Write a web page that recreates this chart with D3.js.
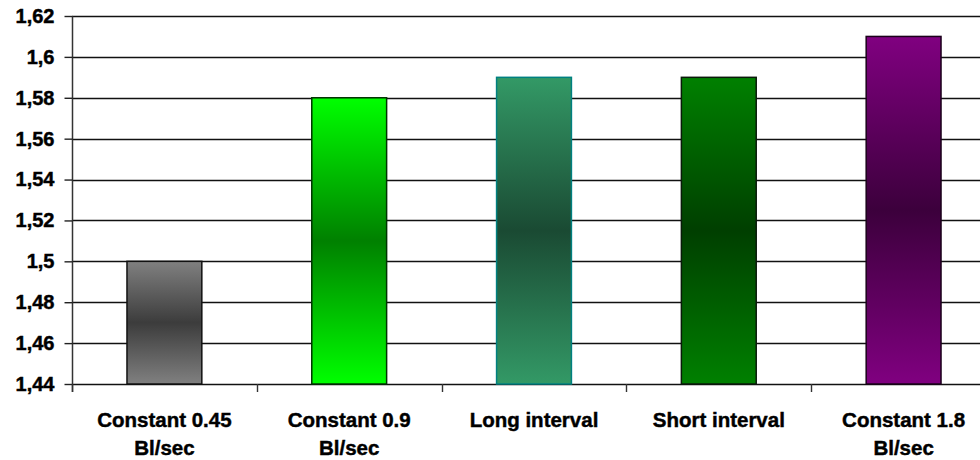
<!DOCTYPE html>
<html>
<head>
<meta charset="utf-8">
<script src="https://cdn.jsdelivr.net/npm/d3@7"></script>
<style>
  html, body { margin: 0; padding: 0; background: #fff; }
  svg { display: block; }
  text { font-family: "Liberation Sans", Arial, sans-serif; font-weight: bold; fill: #000; stroke: #000; stroke-width: 0.45px; }
</style>
</head>
<body>
<svg id="chart" width="980" height="460"></svg>
<script>
const categories = ["Constant 0.45 Bl/sec", "Constant 0.9 Bl/sec", "Long interval", "Short interval", "Constant 1.8 Bl/sec"];
const categoryLines = [["Constant 0.45", "Bl/sec"], ["Constant 0.9", "Bl/sec"], ["Long interval"], ["Short interval"], ["Constant 1.8", "Bl/sec"]];
const values = [1.50, 1.58, 1.59, 1.59, 1.61];
const yTicks = [1.44, 1.46, 1.48, 1.50, 1.52, 1.54, 1.56, 1.58, 1.60, 1.62];
const edgeColors = ["#808080", "#00ff00", "#339966", "#008000", "#800080"];
const midColors = ["#3c3c3c", "#008000", "#1a4a33", "#003f00", "#3c003c"];
const strokeColors = ["#111111", "#003300", "#008080", "#0a1a0a", "#1a001a"];

(function () {
const svg = d3.select("#chart");
const mLeft = 72, mRight = 996, mTop = 16, mBottom = 384;

const x = d3.scaleBand().domain(categories).range([mLeft, mRight]).padding(0);
const y = d3.scaleLinear().domain([1.44, 1.62]).range([mBottom, mTop]);

// gradients
const defs = svg.append("defs");
categories.forEach((c, i) => {
  const g = defs.append("linearGradient").attr("id", "g" + i)
    .attr("x1", 0).attr("y1", 0).attr("x2", 0).attr("y2", 1);
  g.append("stop").attr("offset", "0%").attr("stop-color", edgeColors[i]);
  g.append("stop").attr("offset", "50%").attr("stop-color", midColors[i]);
  g.append("stop").attr("offset", "100%").attr("stop-color", edgeColors[i]);
});

// gridlines
svg.append("g").selectAll("line").data(yTicks).join("line")
  .attr("x1", mLeft).attr("x2", 980)
  .attr("y1", d => Math.round(y(d)) + 0.5).attr("y2", d => Math.round(y(d)) + 0.5)
  .attr("stroke", "#111").attr("stroke-width", 1.4);

// bars
const bw = x.bandwidth();
svg.append("g").selectAll("rect").data(values).join("rect")
  .attr("x", (d, i) => x(categories[i]) + bw * 0.2975)
  .attr("width", bw * 0.405)
  .attr("y", d => y(d))
  .attr("height", d => y(1.44) - y(d))
  .attr("fill", (d, i) => `url(#g${i})`)
  .attr("stroke", (d, i) => strokeColors[i])
  .attr("stroke-width", 1.5);

// y axis
const yAxis = d3.axisLeft(y).tickValues(yTicks).tickSize(8).tickPadding(10)
  .tickFormat(d => String(+d.toFixed(2)).replace(".", ","));
const ya = svg.append("g").attr("transform", `translate(${mLeft + 0.5},0)`).call(yAxis);
ya.select(".domain").attr("stroke", "#333").attr("stroke-width", 1.5).attr("d", `M0,${mTop}V${mBottom + 8}`);
ya.selectAll(".tick line").attr("stroke", "#222").attr("stroke-width", 1.4);
ya.selectAll(".tick text").attr("font-size", 20).attr("font-family", "Liberation Sans, Arial, sans-serif").attr("font-weight", "bold").attr("fill", "#000");

// x axis ticks at band boundaries
svg.append("g").selectAll("line").data(categories).join("line")
  .attr("x1", d => Math.round(x(d)) + 0.5).attr("x2", d => Math.round(x(d)) + 0.5)
  .attr("y1", mBottom).attr("y2", mBottom + 8)
  .attr("stroke", "#333").attr("stroke-width", 1.4);

// x labels
const lbl = svg.append("g").selectAll("text").data(categories).join("text")
  .attr("text-anchor", "middle")
  .attr("font-size", 20.5)
  .attr("x", d => x(d) + bw / 2)
  .attr("y", 427);
lbl.each(function(d, i) {
  const t = d3.select(this);
  categoryLines[i].forEach((ln, j) => {
    t.append("tspan").attr("x", x(d) + bw / 2).attr("y", 427 + j * 28).text(ln);
  });
});
})();
</script>
</body>
</html>
